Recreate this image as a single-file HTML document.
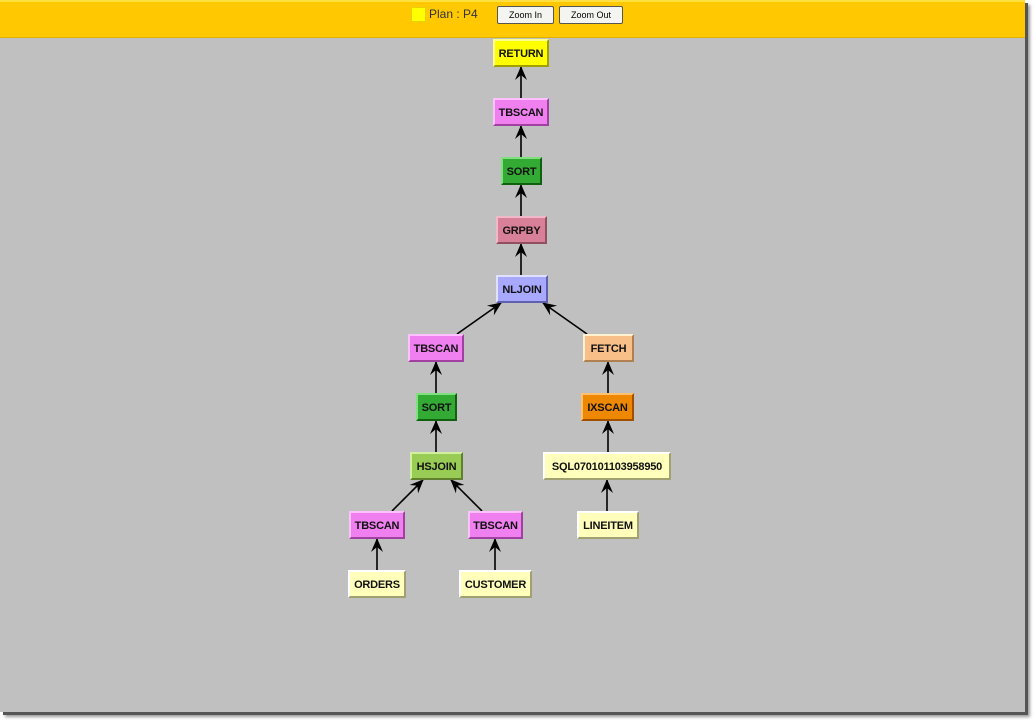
<!DOCTYPE html>
<html><head><meta charset="utf-8"><style>
html,body{margin:0;padding:0;background:#fff;width:1036px;height:724px;overflow:hidden;font-family:"Liberation Sans",Arial,sans-serif}
#frame{position:absolute;left:0;top:0;width:1025px;height:712px;background:#c0c0c0;box-shadow:3px 3px 0 #555,5px 5px 3px #999}
#hdr{position:absolute;left:0;top:0;width:1025px;height:38px;background:#ffc800;border-top:2px solid #ffe040;box-sizing:border-box;border-bottom:1px solid #e0b000}
.sw{position:absolute;left:411px;top:7px;width:13px;height:13px;background:#ffff00;border:1px solid #e8d000}
.pl{position:absolute;left:429px;top:7px;font-size:12px;color:#333}
.btn{position:absolute;top:6px;height:16px;background:#f4f4f0;border:1px solid #555;border-radius:2px;font-size:9px;text-align:center;line-height:16px;color:#000}
.n{position:absolute;box-sizing:border-box;height:28px;border:2px solid;font-weight:bold;font-size:11px;text-align:center;line-height:26px;color:#111;letter-spacing:-0.2px}
svg{position:absolute;left:0;top:0}
</style></head><body>
<div id="frame">
<div id="hdr"></div>
<div class="sw"></div><div class="pl">Plan : P4</div>
<div class="btn" style="left:497px;width:55px">Zoom In</div>
<div class="btn" style="left:559px;width:62px">Zoom Out</div>
<svg width="1025" height="712">
<defs><marker id="a" markerWidth="14" markerHeight="14" refX="13" refY="7" orient="auto" markerUnits="userSpaceOnUse"><path d="M0,1 L14,7 L0,13 L5,7 Z" fill="#000"/></marker></defs>
<g stroke="#000" stroke-width="1.6" marker-end="url(#a)">
<line x1="521" y1="98" x2="521" y2="67"/>
<line x1="521" y1="157" x2="521" y2="126"/>
<line x1="521" y1="216" x2="521" y2="185"/>
<line x1="521" y1="275" x2="521" y2="244"/>
<line x1="457" y1="334" x2="501" y2="303"/>
<line x1="587" y1="334" x2="543" y2="303"/>
<line x1="436" y1="393" x2="436" y2="362"/>
<line x1="608" y1="393" x2="608" y2="362"/>
<line x1="436" y1="452" x2="436" y2="421"/>
<line x1="608" y1="452" x2="608" y2="421"/>
<line x1="392" y1="511" x2="423" y2="480"/>
<line x1="482" y1="511" x2="451" y2="480"/>
<line x1="607" y1="511" x2="607" y2="480"/>
<line x1="377" y1="570" x2="377" y2="539"/>
<line x1="495" y1="570" x2="495" y2="539"/>
</g></svg>
<div class="n" style="left:493px;top:39px;width:56px;background:#ffff00;border-color:#ffff90 #a0a000 #a0a000 #ffff90">RETURN</div>
<div class="n" style="left:493px;top:98px;width:56px;background:#f080f0;border-color:#ffc0ff #a040a0 #a040a0 #ffc0ff">TBSCAN</div>
<div class="n" style="left:501px;top:157px;width:41px;background:#33aa33;border-color:#80e080 #106010 #106010 #80e080">SORT</div>
<div class="n" style="left:496px;top:216px;width:51px;background:#d88098;border-color:#f0b8c8 #905060 #905060 #f0b8c8">GRPBY</div>
<div class="n" style="left:496px;top:275px;width:52px;background:#a8a8ff;border-color:#e0e0ff #6060b0 #6060b0 #e0e0ff">NLJOIN</div>
<div class="n" style="left:408px;top:334px;width:56px;background:#f080f0;border-color:#ffc0ff #a040a0 #a040a0 #ffc0ff">TBSCAN</div>
<div class="n" style="left:583px;top:334px;width:51px;background:#f8c088;border-color:#fff0d0 #b08050 #b08050 #fff0d0">FETCH</div>
<div class="n" style="left:416px;top:393px;width:41px;background:#33aa33;border-color:#80e080 #106010 #106010 #80e080">SORT</div>
<div class="n" style="left:581px;top:393px;width:53px;background:#ee8800;border-color:#ffc070 #a05000 #a05000 #ffc070">IXSCAN</div>
<div class="n" style="left:410px;top:452px;width:53px;background:#99cc55;border-color:#d0f0a0 #608030 #608030 #d0f0a0">HSJOIN</div>
<div class="n" style="left:543px;top:452px;width:128px;background:#ffffbb;border-color:#ffffff #a0a070 #a0a070 #ffffff">SQL070101103958950</div>
<div class="n" style="left:349px;top:511px;width:56px;background:#f080f0;border-color:#ffc0ff #a040a0 #a040a0 #ffc0ff">TBSCAN</div>
<div class="n" style="left:468px;top:511px;width:55px;background:#f080f0;border-color:#ffc0ff #a040a0 #a040a0 #ffc0ff">TBSCAN</div>
<div class="n" style="left:577px;top:511px;width:62px;background:#ffffbb;border-color:#ffffff #a0a070 #a0a070 #ffffff">LINEITEM</div>
<div class="n" style="left:348px;top:570px;width:58px;background:#ffffbb;border-color:#ffffff #a0a070 #a0a070 #ffffff">ORDERS</div>
<div class="n" style="left:459px;top:570px;width:73px;background:#ffffbb;border-color:#ffffff #a0a070 #a0a070 #ffffff">CUSTOMER</div>
</div>
</body></html>
